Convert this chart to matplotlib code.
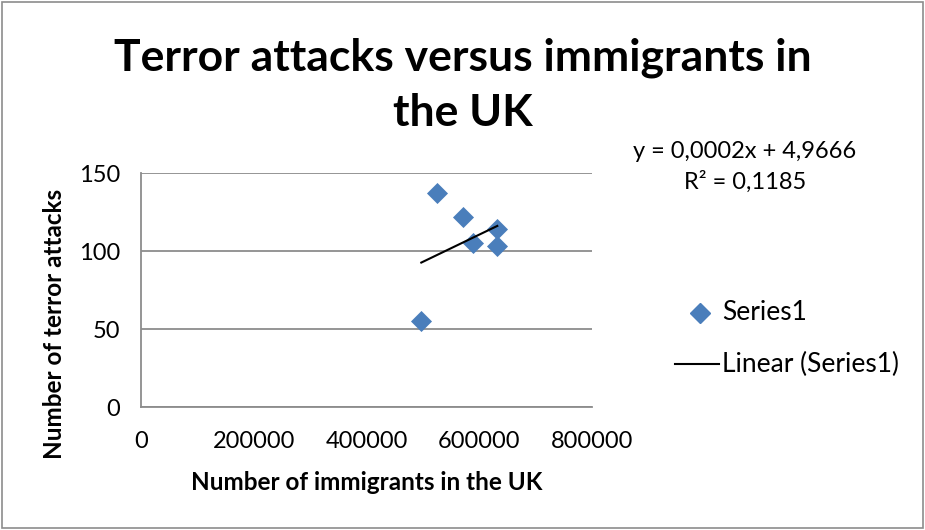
import numpy as np
import matplotlib.pyplot as plt
from matplotlib.lines import Line2D
from matplotlib.patches import Rectangle

plt.rcParams['font.family'] = ['Lato', 'DejaVu Sans']

# immigrants per year vs. terror attacks
immigrants = [525600, 570600, 588900, 631000, 632000, 497200]
attacks = [137, 122, 105, 114, 103, 55]

x_ticks = [0, 200000, 400000, 600000, 800000]
y_ticks = [0, 50, 100, 150]

blue = '#4a7ebb'

fig = plt.figure(figsize=(9.25, 5.3), dpi=100)
fig.patches.append(Rectangle((0.002, 0.004), 0.996, 0.992, transform=fig.transFigure,
                             fill=False, edgecolor='#8c8c8c', linewidth=1.2))

ax = fig.add_axes([141 / 925, 1 - 407 / 530, (592 - 141) / 925, (407 - 173) / 530])

ax.scatter(immigrants, attacks, marker='D', s=115, color=blue, zorder=3, linewidths=0)

# linear trendline over the data range
k, b = np.polyfit(immigrants, attacks, 1)
xs = np.array([min(immigrants), max(immigrants)])
ax.plot(xs, k * xs + b, color='black', linewidth=1.5, zorder=4)

ax.set_xlim(0, 800000)
ax.set_ylim(0, 150)
ax.set_xticks(x_ticks)
ax.set_yticks(y_ticks)
ax.tick_params(length=0, labelsize=17)
ax.tick_params(axis='x', pad=17)
ax.tick_params(axis='y', pad=15)
ax.grid(axis='y', color='#8c8c8c', linewidth=1.3)
ax.set_axisbelow(True)
for s in ['top', 'right']:
    ax.spines[s].set_visible(False)
for s in ['left', 'bottom']:
    ax.spines[s].set_color('#8c8c8c')
    ax.spines[s].set_linewidth(1.3)

fig.text(463 / 925, 1 - 85 / 530, 'Terror attacks versus immigrants in\nthe UK',
         ha='center', va='center', fontsize=32, fontweight='bold', linespacing=1.45)
fig.text(367 / 925, 1 - 482 / 530, 'Number of immigrants in the UK',
         ha='center', va='center', fontsize=17.5, fontweight='bold')
fig.text(55 / 925, 1 - 324 / 530, 'Number of terror attacks', rotation=90,
         ha='center', va='center', fontsize=17.5, fontweight='bold')

# trendline equation
fig.text(745 / 925, 1 - 167 / 530, 'y = 0,0002x + 4,9666\nR² = 0,1185',
         ha='center', va='center', fontsize=17, linespacing=1.45)

# legend
fig.add_artist(Line2D([700 / 925], [1 - 313 / 530], marker='D', markersize=10,
                      color=blue, linewidth=0, transform=fig.transFigure))
fig.text(722 / 925, 1 - 313 / 530, 'Series1', ha='left', va='center', fontsize=19)
fig.add_artist(Line2D([675 / 925, 719 / 925], [1 - 364 / 530] * 2, color='black',
                      linewidth=1.5, transform=fig.transFigure))
fig.text(722 / 925, 1 - 364 / 530, 'Linear (Series1)', ha='left', va='center', fontsize=19)

fig.savefig('out.png')
